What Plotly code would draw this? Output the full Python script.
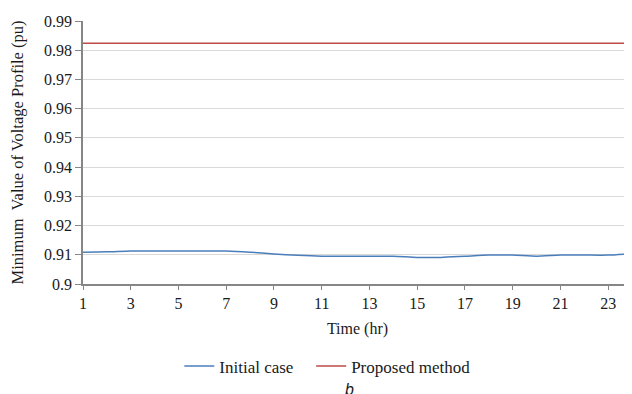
import plotly.graph_objects as go

hours = list(range(1, 25))
initial_case = [0.9109, 0.9110, 0.9113, 0.9113, 0.9113, 0.9113, 0.9113, 0.9109,
                0.9103, 0.9098, 0.9095, 0.9095, 0.9095, 0.9095, 0.9091, 0.9091,
                0.9095, 0.9099, 0.9099, 0.9095, 0.9099, 0.9099, 0.9099, 0.9104]
proposed_method = [0.9824] * 24
y_ticks = [0.90, 0.91, 0.92, 0.93, 0.94, 0.95, 0.96, 0.97, 0.98, 0.99]
y_tick_labels = ["0.9", "0.91", "0.92", "0.93", "0.94", "0.95", "0.96", "0.97", "0.98", "0.99"]
x_ticks = list(range(1, 24, 2))

serif = "Liberation Serif, Times New Roman, serif"
txt = "#1a1a1a"

fig = go.Figure()
fig.add_trace(go.Scatter(x=hours, y=initial_case, mode="lines", name="Initial case\u00a0\u00a0\u00a0",
                         line=dict(color="#4a7ebb", width=1.5, shape="spline", smoothing=0.6)))
fig.add_trace(go.Scatter(x=hours, y=proposed_method, mode="lines", name="Proposed method",
                         line=dict(color="#be4b48", width=1.5)))

fig.update_layout(
    width=624, height=386,
    margin=dict(l=75, r=0, t=13, b=110, autoexpand=False),
    paper_bgcolor="white", plot_bgcolor="white",
    font=dict(family=serif, size=16, color=txt),
    showlegend=True,
    legend=dict(orientation="h", x=0.445, xanchor="center", y=-0.245, yanchor="top",
                font=dict(family=serif, size=17, color=txt), itemwidth=30),
    annotations=[dict(text="<i>b</i>", x=0.486, y=-0.36, xref="paper", yref="paper",
                      xanchor="center", yanchor="top", showarrow=False,
                      font=dict(family="Liberation Sans, Arial, sans-serif", size=16, color=txt))],
)
fig.update_xaxes(range=[1, 24], tickvals=x_ticks, showgrid=False,
                 showline=True, linecolor="#868686", linewidth=1.5,
                 ticks="outside", ticklen=4, tickcolor="#868686",
                 tickfont=dict(family=serif, size=16, color=txt),
                 title=dict(text="Time (hr)", font=dict(family=serif, size=16, color=txt), standoff=12),
                 zeroline=False)
fig.update_yaxes(range=[0.9, 0.99], tickvals=y_ticks, ticktext=y_tick_labels,
                 showgrid=True, gridcolor="#d9d9d9", gridwidth=1,
                 showline=True, linecolor="#868686", linewidth=1.5,
                 ticks="outside", ticklen=6, tickcolor="#868686",
                 tickfont=dict(family=serif, size=16, color=txt),
                 title=dict(text="Minimum\u00a0 Value of Voltage Profile (pu)",
                            font=dict(family=serif, size=16.5, color=txt), standoff=17),
                 zeroline=False)

fig.write_html("out.html")
